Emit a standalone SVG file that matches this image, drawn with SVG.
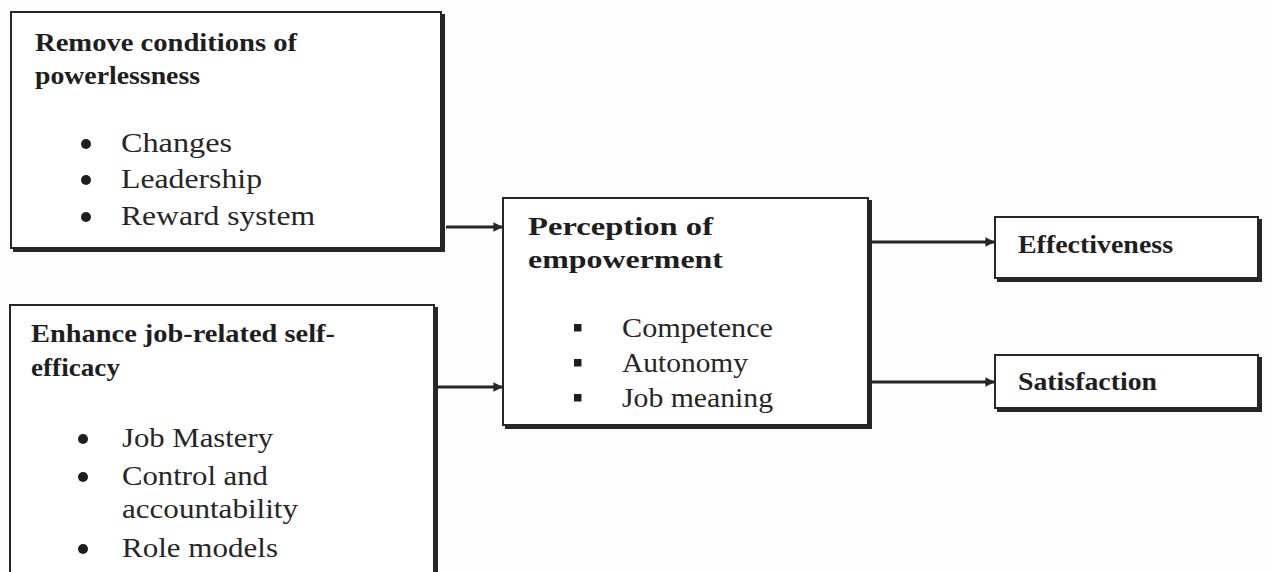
<svg xmlns="http://www.w3.org/2000/svg" width="1272" height="572" viewBox="0 0 1272 572">
  <style>
    .box { fill: #ffffff; stroke: #262626; stroke-width: 2; }
    .shade { fill: none; stroke: #262626; stroke-width: 4; stroke-linejoin: miter; }
    .head { font-family: "Liberation Serif", "Times New Roman", serif; font-weight: bold; font-size: 25px; fill: #1e1e1e; }
    .item { font-family: "Liberation Serif", "Times New Roman", serif; font-size: 28px; fill: #262626; }
    .dot { fill: #1e1e1e; }
    .link { fill: none; stroke: #262626; stroke-width: 3; }
  </style>
  <defs>
    <marker id="arrow" viewBox="0 0 10 10" refX="9" refY="5" markerWidth="4" markerHeight="3.2" orient="auto" markerUnits="strokeWidth">
      <path d="M0,0 L10,5 L0,10 Z" fill="#262626"/>
    </marker>
  </defs>
  <rect width="1272" height="572" fill="#fdfdfd"/>

  <!-- Connectors -->
  <g id="connectors">
    <line class="link" x1="446" y1="227" x2="502" y2="227" marker-end="url(#arrow)"/>
    <line class="link" x1="437" y1="387" x2="502" y2="387" marker-end="url(#arrow)"/>
    <line class="link" x1="871" y1="242" x2="994" y2="242" marker-end="url(#arrow)"/>
    <line class="link" x1="871" y1="382" x2="994" y2="382" marker-end="url(#arrow)"/>
  </g>

  <!-- Remove conditions of powerlessness -->
  <g id="remove-powerlessness">
    <rect class="box" x="11" y="12" width="430" height="236"/>
    <path class="shade" d="M443,14 V250 H13"/>
    <text class="head" x="35" y="51" textLength="262" lengthAdjust="spacingAndGlyphs">Remove conditions of</text>
    <text class="head" x="35" y="84" textLength="165" lengthAdjust="spacingAndGlyphs">powerlessness</text>
    <circle class="dot" cx="86" cy="144" r="5"/>
    <circle class="dot" cx="86" cy="180" r="5"/>
    <circle class="dot" cx="86" cy="217" r="5"/>
    <text class="item" x="121" y="152" textLength="111" lengthAdjust="spacingAndGlyphs">Changes</text>
    <text class="item" x="121" y="188" textLength="141" lengthAdjust="spacingAndGlyphs">Leadership</text>
    <text class="item" x="121" y="225" textLength="194" lengthAdjust="spacingAndGlyphs">Reward system</text>
  </g>

  <!-- Enhance job-related self-efficacy -->
  <g id="enhance-self-efficacy">
    <rect class="box" x="10" y="305" width="424" height="280"/>
    <path class="shade" d="M436,307 V585"/>
    <text class="head" x="31" y="342" textLength="304" lengthAdjust="spacingAndGlyphs">Enhance job-related self-</text>
    <text class="head" x="31" y="376" textLength="89" lengthAdjust="spacingAndGlyphs">efficacy</text>
    <circle class="dot" cx="83" cy="439" r="5"/>
    <circle class="dot" cx="83" cy="477" r="5"/>
    <circle class="dot" cx="83" cy="549" r="5"/>
    <text class="item" x="122" y="447" textLength="151" lengthAdjust="spacingAndGlyphs">Job Mastery</text>
    <text class="item" x="122" y="485" textLength="146" lengthAdjust="spacingAndGlyphs">Control and</text>
    <text class="item" x="122" y="518" textLength="176" lengthAdjust="spacingAndGlyphs">accountability</text>
    <text class="item" x="122" y="557" textLength="156" lengthAdjust="spacingAndGlyphs">Role models</text>
  </g>

  <!-- Perception of empowerment -->
  <g id="perception-empowerment">
    <rect class="box" x="503" y="198" width="365" height="227"/>
    <path class="shade" d="M870,200 V427 H505"/>
    <text class="head" x="528" y="235" textLength="185" lengthAdjust="spacingAndGlyphs">Perception of</text>
    <text class="head" x="528" y="268" textLength="195" lengthAdjust="spacingAndGlyphs">empowerment</text>
    <rect class="dot" x="574" y="324" width="7.5" height="7.5"/>
    <rect class="dot" x="574" y="359" width="7.5" height="7.5"/>
    <rect class="dot" x="574" y="394" width="7.5" height="7.5"/>
    <text class="item" x="622" y="337" textLength="151" lengthAdjust="spacingAndGlyphs">Competence</text>
    <text class="item" x="622" y="372" textLength="126" lengthAdjust="spacingAndGlyphs">Autonomy</text>
    <text class="item" x="622" y="407" textLength="151" lengthAdjust="spacingAndGlyphs">Job meaning</text>
  </g>

  <!-- Effectiveness -->
  <g id="effectiveness">
    <rect class="box" x="995" y="217" width="263" height="61"/>
    <path class="shade" d="M1260,219 V280 H997"/>
    <text class="head" x="1018" y="253" textLength="155" lengthAdjust="spacingAndGlyphs">Effectiveness</text>
  </g>

  <!-- Satisfaction -->
  <g id="satisfaction">
    <rect class="box" x="995" y="355" width="263" height="53"/>
    <path class="shade" d="M1260,357 V410 H997"/>
    <text class="head" x="1018" y="390" textLength="139" lengthAdjust="spacingAndGlyphs">Satisfaction</text>
  </g>
</svg>
